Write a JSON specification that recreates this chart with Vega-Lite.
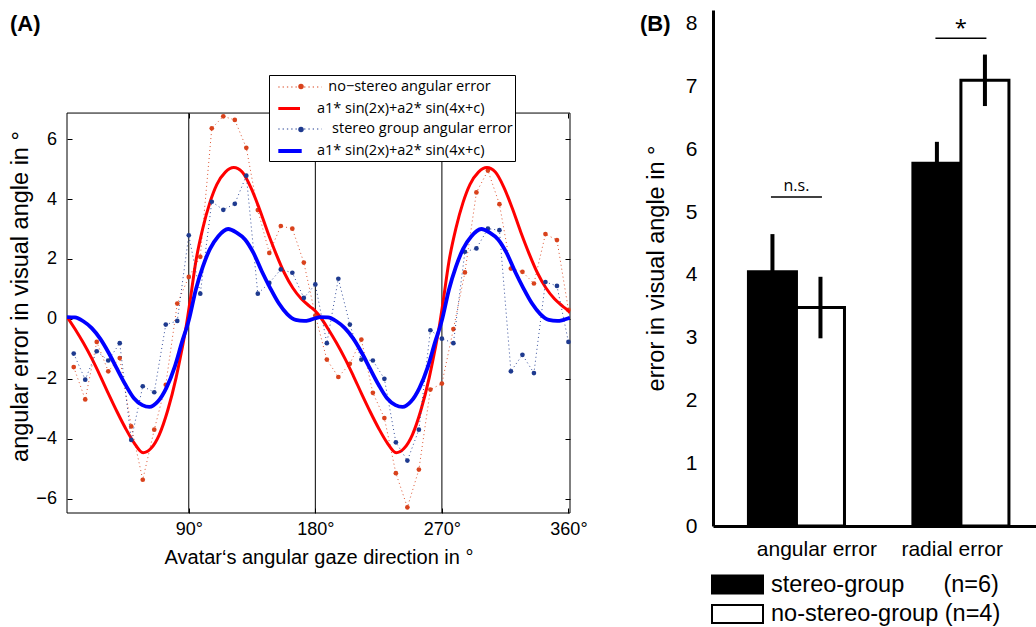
{
  "$schema": "https://vega.github.io/schema/vega-lite/v6.json",
  "background": "white",
  "padding": {"left": 8, "top": 10, "right": 0, "bottom": 0},
  "config": {"font": "Liberation Sans", "view": {"stroke": null}},
  "resolve": {
    "scale": {"color": "independent", "fill": "independent", "strokeWidth": "independent", "strokeDash": "independent"},
    "legend": {"color": "independent", "fill": "independent", "strokeWidth": "independent", "strokeDash": "independent"}
  },
  "spacing": 52,
  "datasets": {
    "vlines": [{"x": 90}, {"x": 180}, {"x": 270}],
    "legendkeys": [
      {"series": "ns", "x": 180, "y": 0}, {"series": "nsfit", "x": 180, "y": 0},
      {"series": "s", "x": 180, "y": 0}, {"series": "sfit", "x": 180, "y": 0}
    ],
    "nsdata": [
      {"x": 8.18, "y": -1.61}, {"x": 16.36, "y": -2.69}, {"x": 24.55, "y": -0.77},
      {"x": 32.73, "y": -1.75}, {"x": 40.91, "y": -1.31}, {"x": 49.09, "y": -3.59},
      {"x": 57.27, "y": -5.37}, {"x": 65.45, "y": -3.70}, {"x": 73.64, "y": -2.20},
      {"x": 81.82, "y": 0.51}, {"x": 90.0, "y": 1.40}, {"x": 98.18, "y": 2.07},
      {"x": 106.36, "y": 6.36}, {"x": 114.55, "y": 6.76}, {"x": 122.73, "y": 6.64},
      {"x": 130.91, "y": 5.71}, {"x": 139.09, "y": 3.63}, {"x": 147.27, "y": 2.20},
      {"x": 155.45, "y": 3.10}, {"x": 163.64, "y": 3.01}, {"x": 171.82, "y": 1.88},
      {"x": 180.0, "y": 0.11}, {"x": 188.18, "y": -1.36}, {"x": 196.36, "y": -1.94},
      {"x": 204.55, "y": -1.50}, {"x": 212.73, "y": -0.69}, {"x": 220.91, "y": -2.47},
      {"x": 229.09, "y": -3.31}, {"x": 237.27, "y": -5.15}, {"x": 245.45, "y": -6.29},
      {"x": 253.64, "y": -5.03}, {"x": 261.82, "y": -2.36}, {"x": 270.0, "y": -2.16},
      {"x": 278.18, "y": -0.34}, {"x": 286.36, "y": 1.55}, {"x": 294.55, "y": 4.22},
      {"x": 302.73, "y": 4.95}, {"x": 310.91, "y": 3.83}, {"x": 319.09, "y": 1.68},
      {"x": 327.27, "y": 1.57}, {"x": 335.45, "y": 1.18}, {"x": 343.64, "y": 2.83},
      {"x": 351.82, "y": 2.63}, {"x": 360.0, "y": 0.30}
    ],
    "sdata": [
      {"x": 8.18, "y": -1.16}, {"x": 16.36, "y": -2.03}, {"x": 24.55, "y": -1.08},
      {"x": 32.73, "y": -1.39}, {"x": 40.91, "y": -0.81}, {"x": 49.09, "y": -4.04},
      {"x": 57.27, "y": -2.25}, {"x": 65.45, "y": -2.45}, {"x": 73.64, "y": -0.19},
      {"x": 81.82, "y": -0.07}, {"x": 90.0, "y": 2.79}, {"x": 98.18, "y": 0.84},
      {"x": 106.36, "y": 3.91}, {"x": 114.55, "y": 3.64}, {"x": 122.73, "y": 3.84},
      {"x": 130.91, "y": 4.78}, {"x": 139.09, "y": 0.84}, {"x": 147.27, "y": 1.20},
      {"x": 155.45, "y": 1.65}, {"x": 163.64, "y": 1.54}, {"x": 171.82, "y": 0.70},
      {"x": 180.0, "y": 1.15}, {"x": 188.18, "y": -0.81}, {"x": 196.36, "y": 1.34},
      {"x": 204.55, "y": -0.19}, {"x": 212.73, "y": -1.36}, {"x": 220.91, "y": -1.39},
      {"x": 229.09, "y": -2.00}, {"x": 237.27, "y": -4.12}, {"x": 245.45, "y": -4.73},
      {"x": 253.64, "y": -3.70}, {"x": 261.82, "y": -0.38}, {"x": 270.0, "y": -0.66},
      {"x": 278.18, "y": -0.81}, {"x": 286.36, "y": 2.24}, {"x": 294.55, "y": 2.35},
      {"x": 302.73, "y": 3.01}, {"x": 310.91, "y": 2.96}, {"x": 319.09, "y": -1.75},
      {"x": 327.27, "y": -1.20}, {"x": 335.45, "y": -1.81}, {"x": 343.64, "y": 1.23},
      {"x": 351.82, "y": 1.10}, {"x": 360.0, "y": -0.77}
    ],
    "nsfit": [
      {"x": 3.4, "y": 0.07}, {"x": 9, "y": -0.33}, {"x": 15, "y": -0.80},
      {"x": 21, "y": -1.32}, {"x": 27, "y": -1.90}, {"x": 33, "y": -2.51},
      {"x": 39, "y": -3.10}, {"x": 45, "y": -3.65}, {"x": 51, "y": -4.13},
      {"x": 57.5, "y": -4.47}, {"x": 63, "y": -4.33}, {"x": 69, "y": -3.87},
      {"x": 75, "y": -3.06}, {"x": 81, "y": -1.96}, {"x": 85, "y": -1.05},
      {"x": 88, "y": -0.30}, {"x": 91, "y": 0.62}, {"x": 95, "y": 1.91},
      {"x": 100, "y": 3.03}, {"x": 105, "y": 3.88}, {"x": 110, "y": 4.49},
      {"x": 116, "y": 4.90}, {"x": 122, "y": 5.05}, {"x": 128, "y": 4.90},
      {"x": 134, "y": 4.40}, {"x": 140, "y": 3.70}, {"x": 146, "y": 2.91},
      {"x": 152, "y": 2.18}, {"x": 158, "y": 1.53}, {"x": 164, "y": 1.03},
      {"x": 170, "y": 0.67}, {"x": 176, "y": 0.42}, {"x": 180, "y": 0.26},
      {"x": 183.4, "y": 0.07}, {"x": 189, "y": -0.33}, {"x": 195, "y": -0.80},
      {"x": 201, "y": -1.32}, {"x": 207, "y": -1.90}, {"x": 213, "y": -2.51},
      {"x": 219, "y": -3.10}, {"x": 225, "y": -3.65}, {"x": 231, "y": -4.13},
      {"x": 237.5, "y": -4.47}, {"x": 243, "y": -4.33}, {"x": 249, "y": -3.87},
      {"x": 255, "y": -3.06}, {"x": 261, "y": -1.96}, {"x": 265, "y": -1.05},
      {"x": 268, "y": -0.30}, {"x": 271, "y": 0.62}, {"x": 275, "y": 1.91},
      {"x": 280, "y": 3.03}, {"x": 285, "y": 3.88}, {"x": 290, "y": 4.49},
      {"x": 296, "y": 4.90}, {"x": 302, "y": 5.05}, {"x": 308, "y": 4.90},
      {"x": 314, "y": 4.40}, {"x": 320, "y": 3.70}, {"x": 326, "y": 2.91},
      {"x": 332, "y": 2.18}, {"x": 338, "y": 1.53}, {"x": 344, "y": 1.03},
      {"x": 350, "y": 0.67}, {"x": 356, "y": 0.42}, {"x": 360, "y": 0.26},
      {"x": 361.1, "y": 0.20}
    ],
    "sfit": [
      {"x": 3.4, "y": 0.06}, {"x": 9, "y": 0.05}, {"x": 15, "y": -0.08},
      {"x": 21, "y": -0.31}, {"x": 27, "y": -0.66}, {"x": 33, "y": -1.13},
      {"x": 39, "y": -1.67}, {"x": 45, "y": -2.20}, {"x": 51, "y": -2.65},
      {"x": 57, "y": -2.88}, {"x": 62, "y": -2.94}, {"x": 68, "y": -2.76},
      {"x": 74, "y": -2.31}, {"x": 80, "y": -1.60}, {"x": 85, "y": -0.80},
      {"x": 90, "y": -0.05}, {"x": 95, "y": 0.97}, {"x": 100, "y": 1.74},
      {"x": 105, "y": 2.33}, {"x": 111, "y": 2.76}, {"x": 118, "y": 3.00},
      {"x": 124, "y": 2.88}, {"x": 130, "y": 2.65}, {"x": 136, "y": 2.20},
      {"x": 142, "y": 1.58}, {"x": 148, "y": 1.02}, {"x": 154, "y": 0.52},
      {"x": 160, "y": 0.16}, {"x": 166, "y": -0.035}, {"x": 172, "y": -0.07},
      {"x": 176, "y": -0.04}, {"x": 180, "y": 0.02},
      {"x": 183.4, "y": 0.06}, {"x": 189, "y": 0.05}, {"x": 195, "y": -0.08},
      {"x": 201, "y": -0.31}, {"x": 207, "y": -0.66}, {"x": 213, "y": -1.13},
      {"x": 219, "y": -1.67}, {"x": 225, "y": -2.20}, {"x": 231, "y": -2.65},
      {"x": 237, "y": -2.88}, {"x": 242, "y": -2.94}, {"x": 248, "y": -2.76},
      {"x": 254, "y": -2.31}, {"x": 260, "y": -1.60}, {"x": 265, "y": -0.80},
      {"x": 270, "y": -0.05}, {"x": 275, "y": 0.97}, {"x": 280, "y": 1.74},
      {"x": 285, "y": 2.33}, {"x": 291, "y": 2.76}, {"x": 298, "y": 3.00},
      {"x": 304, "y": 2.88}, {"x": 310, "y": 2.65}, {"x": 316, "y": 2.20},
      {"x": 322, "y": 1.58}, {"x": 328, "y": 1.02}, {"x": 334, "y": 0.52},
      {"x": 340, "y": 0.16}, {"x": 346, "y": -0.035}, {"x": 352, "y": -0.07},
      {"x": 356, "y": -0.04}, {"x": 360, "y": 0.02}, {"x": 361.1, "y": 0.04}
    ],
    "bars": [
      {"measure": "angular error", "group": "stereo-group", "mean": 4.05, "lo": 3.45, "hi": 4.65},
      {"measure": "angular error", "group": "no-stereo-group", "mean": 3.48, "lo": 2.99, "hi": 3.97},
      {"measure": "radial error", "group": "stereo-group", "mean": 5.78, "lo": 5.44, "hi": 6.12},
      {"measure": "radial error", "group": "no-stereo-group", "mean": 7.10, "lo": 6.69, "hi": 7.51}
    ],
    "sig": [
      {"measure": "angular error", "y": 5.24, "label": "n.s."},
      {"measure": "radial error", "y": 7.77, "label": "*"}
    ]
  },
  "hconcat": [
    {
      "width": 503,
      "height": 503,
      "title": {"text": "(A)", "anchor": "start", "frame": "group", "fontSize": 22, "fontWeight": "bold", "font": "Liberation Sans", "color": "black", "dx": -57, "offset": -26},
      "resolve": {"axis": {"x": "independent", "y": "independent"}},
      "layer": [
        {
          "data": {"name": "vlines"},
          "mark": {"type": "rule", "color": "black", "strokeWidth": 1},
          "encoding": {
            "x": {"field": "x", "type": "quantitative", "scale": {"domain": [3.4, 361.1], "nice": false, "zero": false},
              "axis": {"values": [90, 180, 270, 360], "labelExpr": "datum.value + '°'", "grid": false, "domain": false,
                "tickSize": -5, "tickColor": "black", "labelPadding": 12.5, "labelFontSize": 18, "labelColor": "black",
                "title": "Avatar‘s angular gaze direction in °", "titleFontSize": 20, "titleFontWeight": "normal", "titleColor": "black", "titlePadding": 9}},
            "y": {"datum": -6.48, "type": "quantitative", "scale": {"domain": [-6.48, 10.31], "nice": false, "zero": false},
              "axis": {"values": [-6, -4, -2, 0, 2, 4, 6], "grid": false, "domain": false, "tickSize": -5, "tickColor": "black", "labelPadding": 15.6,
                "labelFontSize": 18, "labelColor": "black", "title": "angular error in visual angle in °", "titleFontSize": 23.5, "titleFontWeight": "normal", "titleColor": "black", "titlePadding": 3, "titleY": 286}},
            "y2": {"datum": 6.87}
          }
        },
        {
          "data": {"values": [{}]},
          "mark": {"type": "rect", "fill": null, "stroke": "black", "strokeWidth": 1},
          "encoding": {
            "x": {"datum": 3.4, "type": "quantitative", "axis": {"orient": "top", "offset": -103, "values": [90, 180, 270, 360], "labels": false, "grid": false, "domain": false, "tickSize": -5, "tickColor": "black", "title": null}},
            "x2": {"datum": 361.1},
            "y": {"datum": -6.48, "type": "quantitative", "axis": {"orient": "right", "values": [-6, -4, -2, 0, 2, 4, 6], "labels": false, "grid": false, "domain": false, "tickSize": -5, "tickColor": "black", "title": null}},
            "y2": {"datum": 6.87}
          }
        },
        {
          "data": {"name": "legendkeys"},
          "mark": {"type": "point", "opacity": 0},
          "encoding": {
            "x": {"field": "x", "type": "quantitative", "axis": null},
            "y": {"field": "y", "type": "quantitative", "axis": null},
            "color": {"field": "series", "type": "nominal",
              "scale": {"domain": ["ns", "nsfit", "s", "sfit"], "range": ["#d9421c", "#ff0000", "#1e3a8f", "#0000ff"]},
              "legend": {
                "orient": "none", "legendX": 202, "legendY": 65, "title": null, "padding": 2, "rowPadding": 4,
                "strokeColor": "black", "fillColor": "white", "symbolSize": 324, "labelOffset": 24, "symbolOpacity": 1,
                "symbolType": "M-0.41,0H4.41",
                "labelFont": "Open Sans", "labelFontSize": 14.5, "labelColor": "black", "labelLimit": 400,
                "labelExpr": "datum.value === 'ns' ? '\u200b\u00a0\u00a0\u00a0no−stereo angular error' : datum.value === 's' ? '\u200b\u00a0\u00a0\u00a0\u00a0stereo group angular error' : 'a1* sin(2x)+a2* sin(4x+c)'"
              }},
            "strokeWidth": {"field": "series", "type": "nominal",
              "scale": {"type": "ordinal", "domain": ["ns", "nsfit", "s", "sfit"], "range": [1.2, 3, 1.2, 4]}},
            "strokeDash": {"field": "series", "type": "nominal",
              "scale": {"domain": ["ns", "nsfit", "s", "sfit"], "range": [[1.3, 3], [21.7, 300], [1.3, 3], [23.4, 300]]}}
          }
        },
        {
          "data": {"name": "legendkeys"},
          "transform": [{"filter": "datum.series === 'ns' || datum.series === 's'"}],
          "mark": {"type": "point", "filled": true, "opacity": 0},
          "encoding": {
            "x": {"field": "x", "type": "quantitative", "axis": null},
            "y": {"field": "y", "type": "quantitative", "axis": null},
            "fill": {"field": "series", "type": "nominal",
              "scale": {"domain": ["ns", "s"], "range": ["#d9421c", "#1e3a8f"]},
              "legend": {
                "orient": "none", "legendX": 231, "legendY": 73.5, "title": null, "padding": 0, "rowPadding": 37,
                "symbolType": "circle", "symbolSize": 30, "symbolStrokeWidth": 0, "symbolOpacity": 1,
                "labelExpr": "''", "labelFontSize": 1
              }}
          }
        },
        {
          "data": {"name": "nsdata"},
          "mark": {"type": "line", "color": "#d9421c", "strokeDash": [1, 3], "strokeWidth": 1, "opacity": 0.9},
          "encoding": {
            "x": {"field": "x", "type": "quantitative", "axis": null},
            "y": {"field": "y", "type": "quantitative", "axis": null}
          }
        },
        {
          "data": {"name": "nsdata"},
          "mark": {"type": "point", "filled": true, "size": 22, "opacity": 1, "color": "#d9421c"},
          "encoding": {
            "x": {"field": "x", "type": "quantitative", "axis": null},
            "y": {"field": "y", "type": "quantitative", "axis": null}
          }
        },
        {
          "data": {"name": "nsfit"},
          "mark": {"type": "line", "color": "#ff0000", "strokeWidth": 3, "interpolate": "monotone", "clip": true},
          "encoding": {
            "x": {"field": "x", "type": "quantitative", "axis": null},
            "y": {"field": "y", "type": "quantitative", "axis": null}
          }
        },
        {
          "data": {"name": "sdata"},
          "mark": {"type": "line", "color": "#1e3a8f", "strokeDash": [1, 3], "strokeWidth": 1, "opacity": 0.9},
          "encoding": {
            "x": {"field": "x", "type": "quantitative", "axis": null},
            "y": {"field": "y", "type": "quantitative", "axis": null}
          }
        },
        {
          "data": {"name": "sdata"},
          "mark": {"type": "point", "filled": true, "size": 22, "opacity": 1, "color": "#1e3a8f"},
          "encoding": {
            "x": {"field": "x", "type": "quantitative", "axis": null},
            "y": {"field": "y", "type": "quantitative", "axis": null}
          }
        },
        {
          "data": {"name": "sfit"},
          "mark": {"type": "line", "color": "#0000ff", "strokeWidth": 3.8, "interpolate": "monotone", "clip": true},
          "encoding": {
            "x": {"field": "x", "type": "quantitative", "axis": null},
            "y": {"field": "y", "type": "quantitative", "axis": null}
          }
        }
      ]
    },
    {
      "width": 323,
      "height": 516,
      "title": {"text": "(B)", "anchor": "start", "frame": "group", "fontSize": 22, "fontWeight": "bold", "font": "Liberation Sans", "color": "black", "dx": -73, "offset": -26},
      "layer": [
        {
          "data": {"name": "bars"},
          "mark": {"type": "bar", "stroke": "black", "strokeWidth": 3},
          "encoding": {
            "x": {"field": "measure", "type": "nominal", "sort": ["angular error", "radial error"],
              "scale": {"paddingInner": 0.416, "paddingOuter": 0.19, "align": 0.567},
              "axis": {"domainWidth": 3, "domainColor": "black", "ticks": false, "labelPadding": 12, "labelFontSize": 21, "labelColor": "black", "labelAngle": 0, "title": null,
                "labelExpr": "datum.value === 'angular error' ? '\u200b\u00a0\u00a0\u00a0\u00a0\u00a0\u00a0\u00a0angular error' : 'radial error\u00a0\u00a0\u00a0\u200b'"}},
            "xOffset": {"field": "group", "type": "nominal", "sort": ["stereo-group", "no-stereo-group"], "scale": {"paddingInner": 0, "paddingOuter": 0}},
            "y": {"field": "mean", "type": "quantitative", "scale": {"domain": [0, 8.22], "nice": false},
              "axis": {"values": [0, 1, 2, 3, 4, 5, 6, 7, 8], "format": "d", "domainWidth": 3, "domainColor": "black", "ticks": false, "grid": false, "labelPadding": 16,
                "labelFontSize": 21, "labelColor": "black", "title": "error in visual angle in °", "titleFontSize": 23.5, "titleFontWeight": "normal", "titleColor": "black", "titlePadding": 17}},
            "color": {"field": "group", "type": "nominal",
              "scale": {"domain": ["stereo-group", "no-stereo-group"], "range": ["black", "white"]},
              "legend": {
                "orient": "none", "legendX": -2, "legendY": 561, "title": null, "padding": 0, "rowPadding": 2.6,
                "symbolType": "M-1,-0.72H3.08V0.72H-1Z", "symbolSize": 625, "labelOffset": 33,
                "symbolStrokeColor": "black", "symbolStrokeWidth": 2, "symbolOpacity": 1,
                "labelFont": "Liberation Sans", "labelFontSize": 23.5, "labelColor": "black", "labelLimit": 500,
                "labelExpr": "datum.value === 'stereo-group' ? 'stereo-group\u00a0\u00a0\u00a0\u00a0\u00a0\u00a0(n=6)' : 'no-stereo-group (n=4)'"
              }}
          }
        },
        {
          "data": {"name": "bars"},
          "mark": {"type": "rule", "color": "black", "strokeWidth": 4},
          "encoding": {
            "x": {"field": "measure", "type": "nominal", "sort": ["angular error", "radial error"]},
            "xOffset": {"field": "group", "type": "nominal", "sort": ["stereo-group", "no-stereo-group"]},
            "y": {"field": "lo", "type": "quantitative"},
            "y2": {"field": "hi"}
          }
        },
        {
          "data": {"name": "sig"},
          "mark": {"type": "tick", "color": "black", "size": 51, "thickness": 1.5, "opacity": 1},
          "encoding": {
            "x": {"field": "measure", "type": "nominal", "sort": ["angular error", "radial error"]},
            "y": {"field": "y", "type": "quantitative"}
          }
        },
        {
          "data": {"name": "sig"},
          "transform": [{"filter": "datum.label === 'n.s.'"}],
          "mark": {"type": "text", "font": "Open Sans", "fontSize": 16, "baseline": "bottom", "dy": -3, "color": "black"},
          "encoding": {
            "x": {"field": "measure", "type": "nominal", "sort": ["angular error", "radial error"]},
            "y": {"field": "y", "type": "quantitative"},
            "text": {"field": "label"}
          }
        },
        {
          "data": {"name": "sig"},
          "transform": [{"filter": "datum.label === '*'"}],
          "mark": {"type": "text", "font": "Open Sans", "fontSize": 22, "baseline": "bottom", "dy": 2, "color": "black"},
          "encoding": {
            "x": {"field": "measure", "type": "nominal", "sort": ["angular error", "radial error"]},
            "y": {"field": "y", "type": "quantitative"},
            "text": {"field": "label"}
          }
        }
      ]
    }
  ]
}
